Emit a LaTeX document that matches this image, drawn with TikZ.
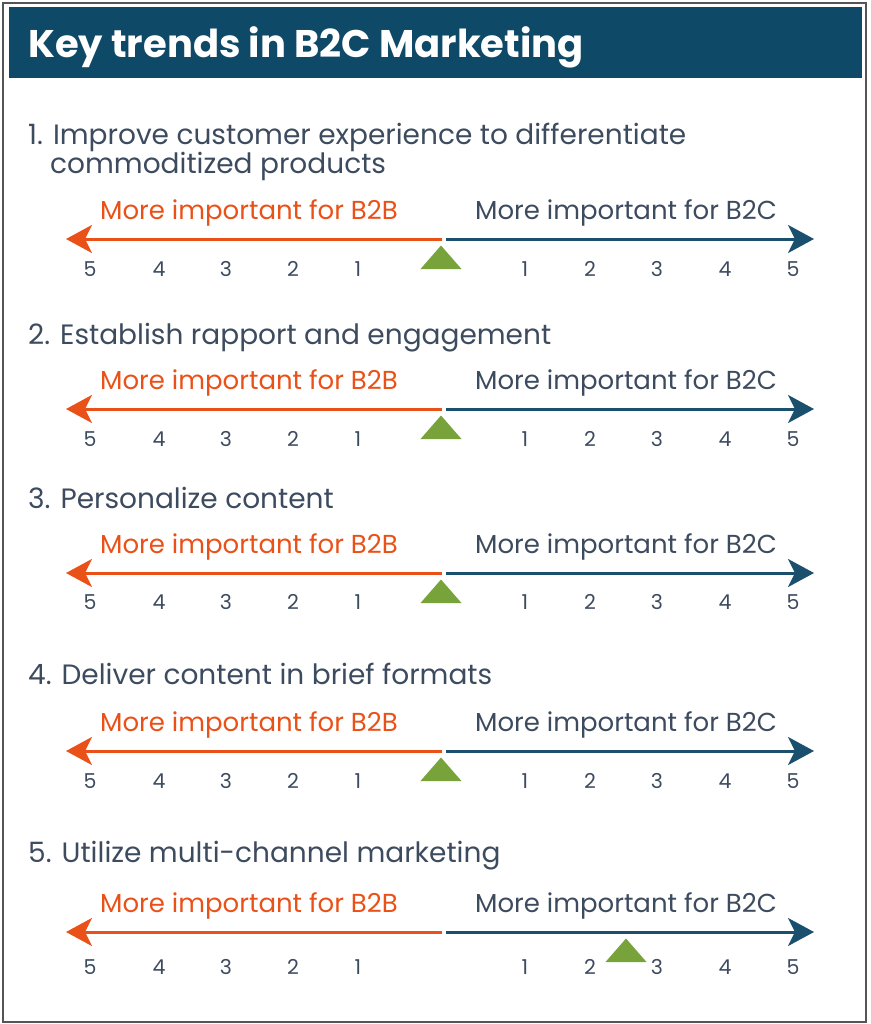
\documentclass[tikz,border=0pt]{standalone}
\usepackage{fontspec}
\setmainfont{Poppins}
\usetikzlibrary{arrows.meta}
\definecolor{barblue}{HTML}{0E4A68}
\definecolor{b2cblue}{HTML}{1B4F6E}
\definecolor{b2borange}{HTML}{EA5119}
\definecolor{inkgrey}{HTML}{3D4B5F}
\definecolor{markgreen}{HTML}{77A33A}
\definecolor{framegrey}{HTML}{555555}
\begin{document}
\begin{tikzpicture}[x=1pt,y=-1pt,
  heading/.style={anchor=base west,inner sep=0pt,text=inkgrey,font=\fontsize{28}{32}\selectfont},
  sidelabel/.style={anchor=base,inner sep=0pt,font=\fontsize{26}{30}\selectfont},
  tick/.style={anchor=base,inner sep=0pt,text=inkgrey,font=\fontsize{20.5}{24}\selectfont},
  b2bline/.style={draw=b2borange,line width=3pt,-{Stealth[length=26pt,width=28pt,inset=7pt]}},
  b2cline/.style={draw=b2cblue,line width=3pt,-{Stealth[length=26pt,width=28pt,inset=7pt]}},
  marker/.style={fill=markgreen}]
\useasboundingbox (0,0) rectangle (870,1024);
\draw[framegrey,line width=1.5pt] (3,3) rectangle (866,1022);
\node[fill=barblue,minimum width=853pt,minimum height=71pt,anchor=north west,inner sep=0pt] (bar) at (9,7) {};
\node[anchor=base west,inner sep=0pt,text=white,font=\fontsize{38.5}{42}\selectfont\bfseries] (title) at (28,58) {Key trends in B2C Marketing};
% headings
\node[heading] (h1) at (28,145) {1. Improve customer experience to differentiate};
\node[heading] (h1b) at (50,174) {commoditized products};
\node[heading] (h2) at (28,344) {2. Establish rapport and engagement};
\node[heading] (h3) at (28,508) {3. Personalize content};
\node[heading] (h4) at (28,684) {4. Deliver content in brief formats};
\node[heading] (h5) at (28,862) {5. Utilize multi-channel marketing};
% scales
\foreach \i/\y/\m/\n in {1/239/441/37, 2/409/441/37, 3/573/441/36, 4/751/441/37, 5/932/626/42}{
  \coordinate (mid\i) at (442,\y);
  \coordinate (gap\i) at (446,\y);
  \coordinate (left\i) at (66,\y);
  \coordinate (right\i) at (814,\y);
  \draw[b2bline] (mid\i) -- (left\i);
  \draw[b2cline] (gap\i) -- (right\i);
  \node[sidelabel,text=b2borange] (b2b\i) at (249,\y-20) {More important for B2B};
  \node[sidelabel,text=inkgrey] (b2c\i) at (626,\y-20) {More important for B2C};
  \foreach \k/\x in {5/90,4/159,3/226,2/293,1/358}
    \node[tick] (l\i\k) at (\x,\y+\n) {\k};
  \foreach \k/\x in {1/525,2/590,3/657,4/725,5/793}
    \node[tick] (r\i\k) at (\x,\y+\n) {\k};
  \fill[marker] (\m-20.5,\y+30) -- (\m,\y+6.5) -- (\m+20.5,\y+30) -- cycle;
}
\end{tikzpicture}
\end{document}
